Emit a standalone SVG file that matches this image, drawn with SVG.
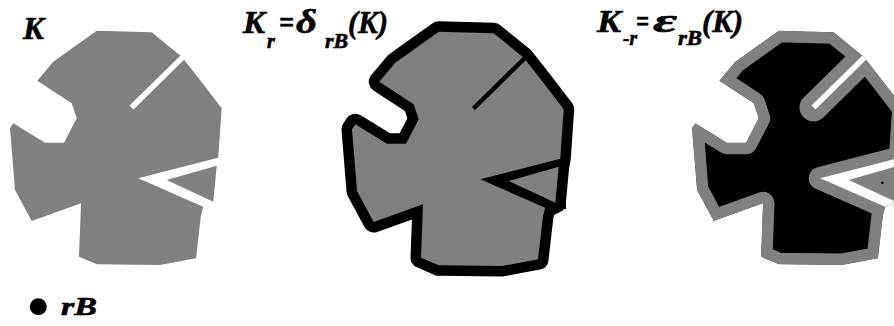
<svg xmlns="http://www.w3.org/2000/svg" width="894" height="326" viewBox="0 0 894 326">
<style>
.t{font-family:"Liberation Serif","Times New Roman",serif;font-weight:bold;font-style:italic;fill:#000;stroke:#000;stroke-width:0.6}
.big{font-size:31px}
.sub{font-size:20px}
.gr{font-size:34px}
.gray{fill:#808080}
</style>
<defs>
<polygon id="P" points="96.7,30.7 151.7,32.3 181.7,56.7 200,80 221.7,108.3 218.3,157 216.7,165.7 213.3,201.7 203.3,206.7 201,215 196,258.3 160,265 96.7,264.3 79,256.7 81,203.3 31.7,221 15,190 10,128.3 13.3,123.3 45,142.7 64,142.7 76.7,118.3 71.7,103.3 37.3,80.7 53.3,61.7"/>
<polygon id="V" points="138.3,178.3 222,156.7 224,208 206,207.9"/>
<polygon id="T" points="166.7,180 216.7,165.7 213.3,201.7"/>
<line id="S" x1="187" y1="53" x2="131.5" y2="107.5"/>
<clipPath id="clipP"><use href="#P"/></clipPath>
</defs>

<g id="shapeK">
  <use href="#P" class="gray"/>
  <use href="#S" stroke="#fff" stroke-width="5.5"/>
  <use href="#V" fill="#fff"/>
  <use href="#T" class="gray"/>
</g>

<g id="shapeDilation" transform="translate(342,1)">
  <use href="#P" fill="none" stroke="#000" stroke-width="21" stroke-linejoin="round"/>
  <use href="#P" class="gray"/>
  <use href="#S" stroke="#000" stroke-width="4.5"/>
  <use href="#V" fill="#000"/>
  <use href="#T" class="gray"/>
</g>

<g id="shapeErosion" transform="translate(682,0)">
  <g clip-path="url(#clipP)">
    <use href="#P" fill="#000" stroke="#808080" stroke-width="23" stroke-linejoin="round"/>
    <use href="#S" stroke="#808080" stroke-width="28" stroke-linecap="round"/>
    <use href="#V" fill="#808080" stroke="#808080" stroke-width="23" stroke-linejoin="round"/>
    <use href="#S" stroke="#fff" stroke-width="5.5"/>
    <use href="#V" fill="#fff"/>
    <use href="#T" class="gray"/>
    <circle cx="200.3" cy="182.7" r="1.3" fill="#000"/>
  </g>
</g>

<g id="labels">
  <text class="t big" x="23" y="39" textLength="21" lengthAdjust="spacingAndGlyphs">K</text>

  <text class="t big" x="243" y="33" textLength="22" lengthAdjust="spacingAndGlyphs">K</text>
  <text class="t sub" x="267" y="48">r</text>
  <text class="t big" x="279" y="33" textLength="15" lengthAdjust="spacingAndGlyphs">=</text>
  <text class="t gr" x="296" y="33" textLength="21" lengthAdjust="spacingAndGlyphs">δ</text>
  <text class="t sub" x="325" y="48" textLength="23" lengthAdjust="spacingAndGlyphs">rB</text>
  <text class="t big" x="348" y="33" textLength="40" lengthAdjust="spacingAndGlyphs">(K)</text>

  <text class="t big" x="597" y="32" textLength="24" lengthAdjust="spacingAndGlyphs">K</text>
  <text class="t sub" x="623" y="45" textLength="14" lengthAdjust="spacingAndGlyphs">-r</text>
  <text class="t big" x="636" y="32" textLength="13" lengthAdjust="spacingAndGlyphs">=</text>
  <text class="t gr" x="653" y="32" textLength="24" lengthAdjust="spacingAndGlyphs">ε</text>
  <text class="t sub" x="678" y="45" textLength="24" lengthAdjust="spacingAndGlyphs">rB</text>
  <text class="t big" x="702" y="32" textLength="41" lengthAdjust="spacingAndGlyphs">(K)</text>
</g>

<g id="legend">
  <circle cx="38.3" cy="306.7" r="8.5" fill="#000"/>
  <text class="t" style="font-size:26px" x="61" y="315" textLength="36" lengthAdjust="spacingAndGlyphs">rB</text>
</g>
</svg>
